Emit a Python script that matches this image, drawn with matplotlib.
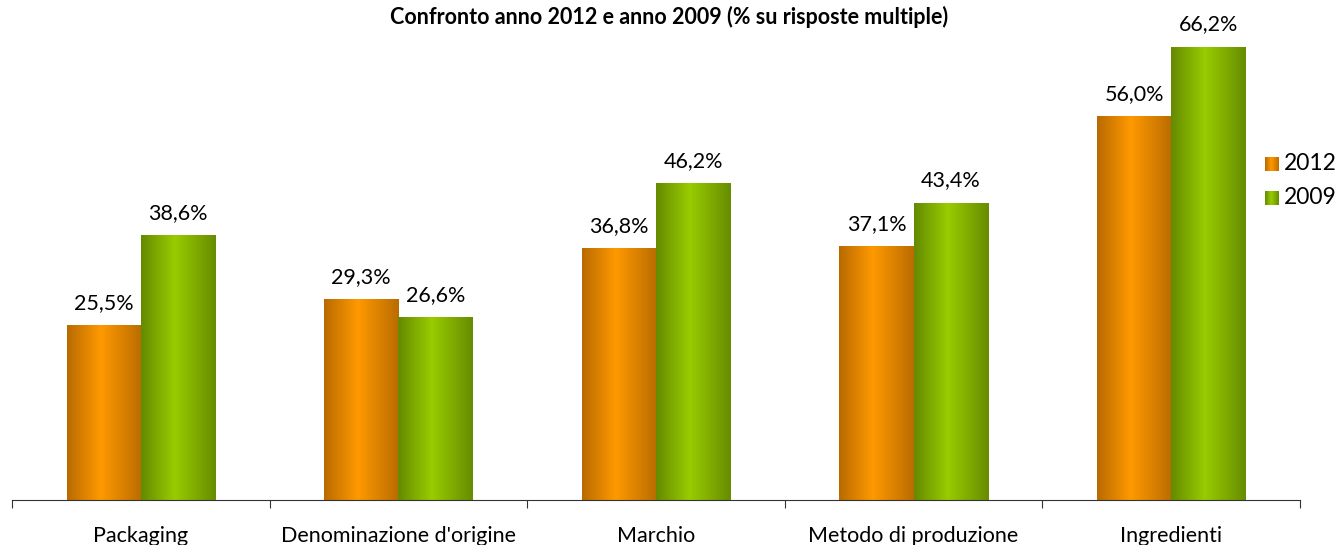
import numpy as np
import matplotlib
matplotlib.use("Agg")
import matplotlib.pyplot as plt
from matplotlib.colors import LinearSegmentedColormap

plt.rcParams["font.family"] = ["Lato", "DejaVu Sans"]

categories = ["Packaging", "Denominazione d'origine", "Marchio",
              "Metodo di produzione", "Ingredienti"]
vals_2012 = [25.5, 29.3, 36.8, 37.1, 56.0]
vals_2009 = [38.6, 26.6, 46.2, 43.4, 66.2]
series_names = ["2012", "2009"]

ORANGE = LinearSegmentedColormap.from_list(
    "orange", [(0.0, "#B86A00"), (0.45, "#FF9900"), (1.0, "#BA6C00")])
GREEN = LinearSegmentedColormap.from_list(
    "green", [(0.0, "#648A00"), (0.45, "#99CC00"), (1.0, "#668C00")])

grad = np.linspace(0, 1, 256).reshape(1, -1)

fig = plt.figure(figsize=(13.39, 5.45), dpi=100)
ax = fig.add_axes([12 / 1339, 45 / 545, 1288 / 1339, 479 / 545])

w = 0.288


def grad_bar(x0, h, cmap):
    ax.imshow(grad, cmap=cmap, aspect="auto", extent=(x0, x0 + w, 0, h),
              interpolation="bicubic", zorder=2)


for i, (a, b) in enumerate(zip(vals_2012, vals_2009)):
    c = i + 0.5
    grad_bar(c - w, a, ORANGE)
    grad_bar(c, b, GREEN)
    ax.annotate(f"{a:.1f}".replace(".", ",") + "%", (c - w / 2, a),
                textcoords="offset points", xytext=(0, 9),
                ha="center", va="bottom", fontsize=15.5)
    ax.annotate(f"{b:.1f}".replace(".", ",") + "%", (c + w / 2, b),
                textcoords="offset points", xytext=(0, 9),
                ha="center", va="bottom", fontsize=15.5)

ax.set_xlim(0, len(categories))
ax.set_ylim(0, 70)

for s in ["top", "right", "left"]:
    ax.spines[s].set_visible(False)
ax.spines["bottom"].set_color("#333333")
ax.set_yticks([])
ax.set_xticks(np.arange(len(categories) + 1))
ax.set_xticklabels([])
ax.tick_params(axis="x", which="major", direction="out", length=6,
               color="#333333")
ax.set_xticks(np.arange(len(categories)) + 0.5, minor=True)
ax.set_xticklabels(categories, minor=True, fontsize=15.5)
ax.tick_params(axis="x", which="minor", length=0, pad=19)

fig.text(0.5, 0.99, "Confronto anno 2012 e anno 2009 (% su risposte multiple)",
         ha="center", va="top", fontsize=15.5, fontweight="bold")

# legend with gradient swatches
for k, (name, cmap) in enumerate(zip(series_names, [ORANGE, GREEN])):
    ytop = 157 + 34 * k
    lax = fig.add_axes([1265 / 1339, 1 - (ytop + 14) / 545, 14 / 1339, 14 / 545])
    lax.imshow(grad, cmap=cmap, aspect="auto", interpolation="bicubic")
    lax.axis("off")
    fig.text(1284 / 1339, 1 - (ytop + 7) / 545, name, ha="left",
             va="center", fontsize=16.5)

fig.savefig("out.png", dpi=100)
